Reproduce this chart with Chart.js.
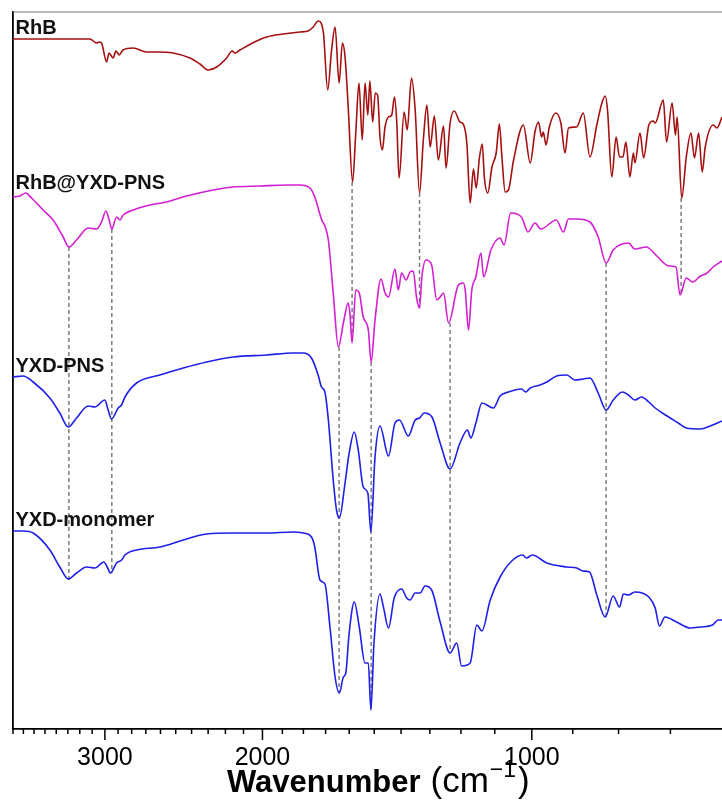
<!DOCTYPE html>
<html>
<head>
<meta charset="utf-8">
<title>FTIR spectra</title>
<script src="https://cdn.jsdelivr.net/npm/chart.js@4.4.1/dist/chart.umd.min.js"></script>
<style>
  html, body { margin: 0; padding: 0; background: #fff; }
  #wrap { width: 722px; height: 806px; }
</style>
</head>
<body>
<div id="wrap"><canvas id="ftir" width="722" height="806"></canvas></div>
<script>
// wavenumbers (cm-1) and stacked transmittance (arbitrary units, offset per trace)
var rhbWave = [3805,3118,3064,3045,3026,2987,2968,2937,2916,2891,
  2864,2789,2695,2626,2518,2410,2349,2299,2250,2193,
  2162,2147,2119,2030,1979,1896,1816,1778,1755,1733,
  1710,1691,1674,1659,1642,1628,1617,1604,1586,1573,
  1560,1547,1536,1525,1517,1506,1496,1487,1478,1469,
  1459,1446,1434,1424,1416,1407,1389,1378,1363,1350,
  1335,1322,1310,1299,1285,1272,1255,1247,1234,1221,
  1203,1193,1182,1172,1162,1154,1144,1136,1130,1120,
  1108,1096,1087,1080,1071,1062,1048,1022,1004,992,
  983,975,971,964,956,940,928,918,910,891,
  876,861,846,835,828,823,814,805,798,791,
  785,777,770,767,757,750,740,732,728,713,
  707,697,691,688,680,672,664,658,651,645,
  640,627,621,613];
var rhbSignal = [690,690,686,687,686,667,676,671,678,674,
  679,681,677,677,676,671,665,659,662,671,
  678,676,679,688,692,695,697,698,702,708,
  697,639,679,702,646,686,672,622,547,596,
  646,589,646,614,648,607,636,634,592,579,
  602,612,614,632,609,551,617,599,651,619,
  536,589,624,582,613,569,603,561,606,618,
  607,605,586,526,560,541,572,585,552,536,
  562,576,605,572,537,539,569,604,566,597,
  607,592,597,584,602,616,606,576,601,602,
  616,572,604,626,633,619,552,592,572,572,
  587,552,576,566,596,571,604,608,606,629,
  587,626,594,612,531,572,596,571,596,557,
  582,604,601,612];

var loadedWave = [3805,3734,3677,3623,3517,3427,3340,3291,3227,3132,
  3064,3026,2992,2967,2947,2911,2886,2862,2789,2672,
  2560,2431,2270,2157,2013,1879,1816,1770,1748,1717,
  1703,1688,1667,1645,1624,1604,1597,1588,1573,1559,
  1543,1523,1512,1497,1474,1459,1446,1422,1410,1398,
  1382,1368,1357,1345,1335,1327,1313,1294,1277,1266,
  1255,1239,1208,1193,1187,1177,1167,1155,1140,1132,
  1111,1085,1074,1056,1027,1010,992,977,939,922,
  910,891,861,843,826,811,780,767,745,725,
  703,690,683,672,661,648,637,627,613];
var loadedSignal = [532,533,536,531,519,509,492,482,489,501,
  500,507,518,509,500,512,509,514,519,524,
  527,533,539,542,543,544,544,541,532,509,
  503,489,436,382,406,426,416,386,439,436,
  412,399,367,409,450,436,432,460,439,456,
  449,457,458,431,421,452,469,464,429,432,
  436,406,444,446,439,399,439,452,476,452,
  479,491,484,516,512,497,506,500,509,497,
  510,510,507,492,466,479,486,480,482,473,
  463,462,434,451,447,453,456,462,468];

var pnsWave = [3805,3703,3608,3456,3369,3297,3227,3132,3078,3000,
  2975,2949,2899,2874,2849,2765,2604,2452,2309,2157,
  1979,1848,1801,1763,1733,1718,1703,1688,1667,1653,
  1641,1617,1600,1579,1563,1543,1525,1513,1497,1478,
  1446,1422,1406,1374,1350,1335,1319,1293,1266,1234,
  1203,1180,1170,1154,1137,1104,1085,1062,1027,1016,
  1004,979,962,938,914,895,876,861,843,826,
  811,792,780,767,754,740,728,706,686,672,
  648,632,613];
var pnsSignal = [352,353,347,331,316,302,311,323,322,329,
  319,310,321,324,332,346,354,361,367,372,
  374,376,376,371,354,342,337,309,249,219,
  211,246,276,297,279,242,236,197,272,303,
  273,306,309,293,309,311,316,312,286,260,
  286,299,291,307,326,321,333,337,340,337,
  341,344,347,353,354,349,350,351,336,319,
  329,337,334,329,332,327,321,313,306,301,
  300,303,308];

var monoWave = [3805,3703,3608,3456,3369,3297,3227,3145,3078,3008,
  2982,2957,2911,2874,2849,2765,2604,2452,2309,2157,
  1979,1848,1801,1763,1748,1725,1703,1681,1659,1641,
  1624,1614,1600,1579,1559,1536,1523,1513,1501,1478,
  1465,1446,1425,1398,1380,1368,1350,1333,1316,1294,
  1266,1234,1213,1198,1172,1152,1137,1113,1085,1053,
  1024,1014,999,962,914,891,877,862,846,828,
  811,798,790,780,767,740,728,720,710,689,
  665,648,628,619,613];
var monoSignal = [198,198,196,179,162,150,156,162,161,167,
  162,156,166,169,174,179,182,189,195,196,
  196,197,196,192,182,149,145,102,52,36,
  52,56,96,127,102,66,66,19,86,135,
  122,101,131,140,131,129,136,136,143,139,
  107,76,86,63,66,104,98,129,152,168,
  174,171,174,166,162,161,158,157,134,112,
  133,122,135,134,137,132,121,103,112,107,
  101,102,104,109,109];

var seriesNames = ['RhB', 'RhB@YXD-PNS', 'YXD-PNS', 'YXD-monomer'];

// guide lines linking shared bands
var guideWave = [3291, 2947, 1642, 1588, 1512, 1335, 1234, 826, 681];
var guideTop = [482, 500, 382, 547, 367, 536, 406, 466, 531];
var guideBottom = [149, 156, 36, 386, 19, 421, 76, 112, 434];

var majorTicks = [1000, 2000, 3000];
var minorTicks = [700, 800, 900, 1000, 1100, 1200, 1300, 1400, 1500, 1600, 1700, 1800, 1900,
  2000, 2100, 2200, 2300, 2400, 2500, 2600, 2700, 2800, 2900, 3000,
  3100, 3200, 3300, 3400, 3500, 3600, 3700, 3800];

function pairs(xs, ys) {
  return xs.map(function (x, i) { return { x: x, y: ys[i] }; });
}

function spectrum(xs, ys, color) {
  return {
    data: pairs(xs, ys),
    borderColor: color,
    borderWidth: 1.6,
    pointRadius: 0,
    cubicInterpolationMode: 'monotone',
    order: 1
  };
}

var datasets = [
  spectrum(rhbWave, rhbSignal, '#a3100f'),
  spectrum(loadedWave, loadedSignal, '#d21fd2'),
  spectrum(pnsWave, pnsSignal, '#1f1fe8'),
  spectrum(monoWave, monoSignal, '#1f1fe8')
];
guideWave.forEach(function (w, i) {
  datasets.push({
    data: [{ x: w, y: guideTop[i] }, { x: w, y: guideBottom[i] }],
    borderColor: '#7c7c7c',
    borderWidth: 1.5,
    borderDash: [4, 3],
    pointRadius: 0,
    order: 5
  });
});

var decor = {
  id: 'decor',
  afterDraw: function (chart) {
    var c = chart.ctx, a = chart.chartArea, xs = chart.scales.x;
    c.save();

    // top frame
    c.strokeStyle = '#777';
    c.lineWidth = 1.2;
    c.beginPath();
    c.moveTo(a.left, a.top);
    c.lineTo(a.right, a.top);
    c.stroke();

    // tick marks, longer at the labelled ones
    c.strokeStyle = '#000';
    c.lineWidth = 1.5;
    xs.ticks.forEach(function (t) {
      var px = xs.getPixelForValue(t.value);
      var len = majorTicks.indexOf(t.value) >= 0 ? 11 : 5;
      c.beginPath();
      c.moveTo(px, a.bottom);
      c.lineTo(px, a.bottom + len);
      c.stroke();
    });

    // trace names
    c.fillStyle = '#111';
    c.font = 'bold 20px "Liberation Sans", Arial, sans-serif';
    c.textAlign = 'left';
    c.textBaseline = 'alphabetic';
    var base = [34, 189, 372, 526];
    seriesNames.forEach(function (n, i) {
      c.fillText(n, a.left + 3, base[i]);
    });

    // axis title: bold word, regular unit with superscript
    var y = 792;
    var x = 227;
    c.fillStyle = '#000';
    c.font = 'bold 31px "Liberation Sans", Arial, sans-serif';
    c.fillText('Wavenumber', x, y);
    x += c.measureText('Wavenumber').width + 10;
    c.font = '35px "Liberation Sans", Arial, sans-serif';
    c.fillText('(cm', x, y);
    x += c.measureText('(cm').width + 1;
    c.font = '23px "Liberation Sans", Arial, sans-serif';
    c.fillText('\u22121', x, y - 15);
    x += c.measureText('\u22121').width + 2;
    c.font = '35px "Liberation Sans", Arial, sans-serif';
    c.fillText(')', x, y);
    c.restore();
  }
};

var ctx = document.getElementById('ftir');
var chart = new Chart(ctx, {
  type: 'line',
  data: { datasets: datasets },
  options: {
    responsive: false,
    animation: false,
    devicePixelRatio: 1,
    layout: { padding: { top: 12, left: 0, right: 0, bottom: 0 } },
    plugins: { legend: { display: false }, tooltip: { enabled: false } },
    scales: {
      x: {
        type: 'logarithmic',
        reverse: true,
        min: 613,
        max: 3805,
        afterBuildTicks: function (s) {
          s.ticks = minorTicks.map(function (v) { return { value: v }; });
        },
        afterFit: function (s) { s.height = 77; },
        grid: { display: false, drawTicks: false },
        border: { display: true, color: '#000', width: 1.8 },
        ticks: {
          autoSkip: false,
          maxRotation: 0,
          padding: 14,
          color: '#000',
          font: { family: '"Liberation Sans", Arial, sans-serif', size: 25 },
          callback: function (v) { return majorTicks.indexOf(v) >= 0 ? String(v) : ''; }
        }
      },
      y: {
        min: 0,
        max: 717,
        afterFit: function (s) { s.width = 12.5; },
        grid: { display: false },
        border: { display: true, color: '#000', width: 1.8 },
        ticks: { display: false }
      }
    }
  },
  plugins: [decor]
});
</script>
</body>
</html>
